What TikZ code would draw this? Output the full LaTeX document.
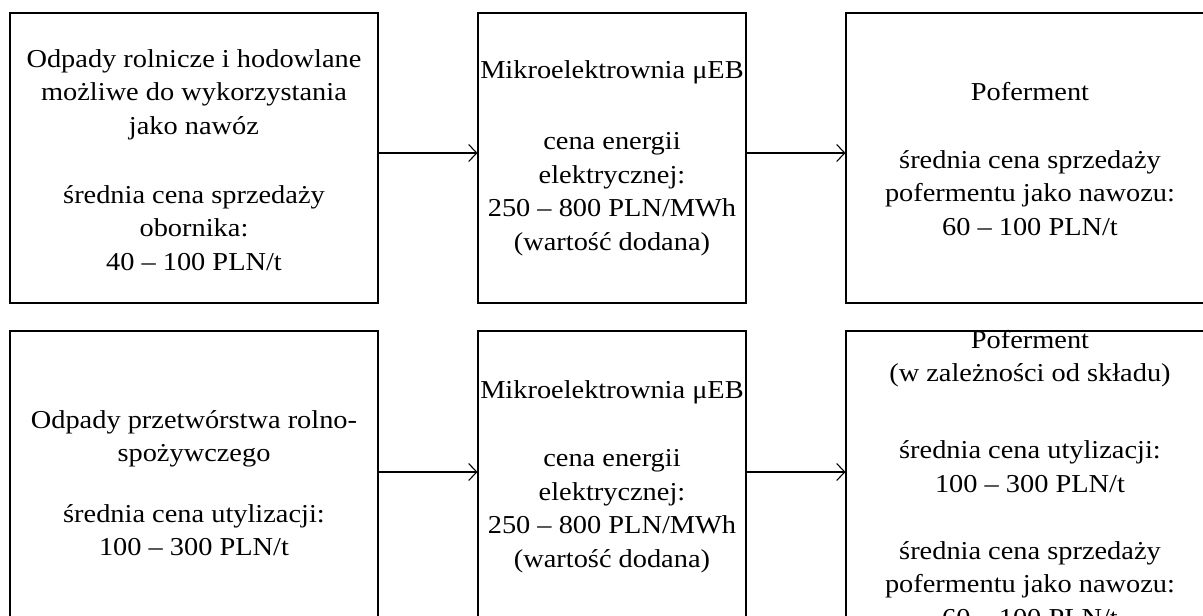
\documentclass[tikz,border=0pt]{standalone}
\usepackage{fontspec}
\setmainfont{Liberation Serif}[FakeStretch=1.1]
\usetikzlibrary{arrows.meta}
\begin{document}
\begin{tikzpicture}[x=1pt,y=-1pt,
  box/.style={draw, line width=1.1pt, minimum height=290pt, inner sep=0pt},
  txt/.style={align=center, anchor=north, font=\fontsize{25.8}{33.5}\selectfont, inner sep=0pt},
  arr/.style={line width=1.1pt, -{Straight Barb[length=8pt,width=17pt,line width=1.1pt]}}]
\useasboundingbox (0,0) rectangle (1203,616);
% top row
\node[box, minimum width=368pt] (a1) at (194,158) {};
\node[box, minimum width=268pt] (b1) at (612,158) {};
\node[box, minimum width=368pt] (c1) at (1030,158) {};
% bottom row
\node[box, minimum width=368pt] (a2) at (194,476) {};
\node[box, minimum width=268pt] (b2) at (612,476) {};
\node[box, minimum width=368pt] (c2) at (1030,476) {};
% texts (node top = first baseline - 23.45)
\node[txt] (ta1) at (194,43.5) {\strut Odpady rolnicze i hodowlane\\ możliwe do wykorzystania\\ jako nawóz\\[35.5pt] średnia cena sprzedaży\\ obornika:\\ 40 – 100 PLN/t};
\node[txt] (tb1) at (612,55) {\strut Mikroelektrownia μEB\\[37.5pt] cena energii\\ elektrycznej:\\ 250 – 800 PLN/MWh\\ (wartość dodana)};
\node[txt] (tc1) at (1030,76.5) {\strut Poferment\\[34.5pt] średnia cena sprzedaży\\ pofermentu jako nawozu:\\ 60 – 100 PLN/t};
\node[txt] (ta2) at (194,404.5) {\strut Odpady przetwórstwa rolno-\\ spożywczego\\[27pt] średnia cena utylizacji:\\ 100 – 300 PLN/t};
\node[txt] (tb2) at (612,375) {\strut Mikroelektrownia μEB\\[34.5pt] cena energii\\ elektrycznej:\\ 250 – 800 PLN/MWh\\ (wartość dodana)};
\node[txt] (tc2) at (1030,324.5) {\strut Poferment\\ (w zależności od składu)\\[43.5pt] średnia cena utylizacji:\\ 100 – 300 PLN/t\\[33.5pt] średnia cena sprzedaży\\ pofermentu jako nawozu:\\ 60 – 100 PLN/t};
% arrows
\draw[arr] ([yshift=5pt]a1.east) -- ([yshift=5pt]b1.west);
\draw[arr] ([yshift=5pt]b1.east) -- ([yshift=5pt]c1.west);
\draw[arr] ([yshift=4pt]a2.east) -- ([yshift=4pt]b2.west);
\draw[arr] ([yshift=4pt]b2.east) -- ([yshift=4pt]c2.west);
\end{tikzpicture}
\end{document}
